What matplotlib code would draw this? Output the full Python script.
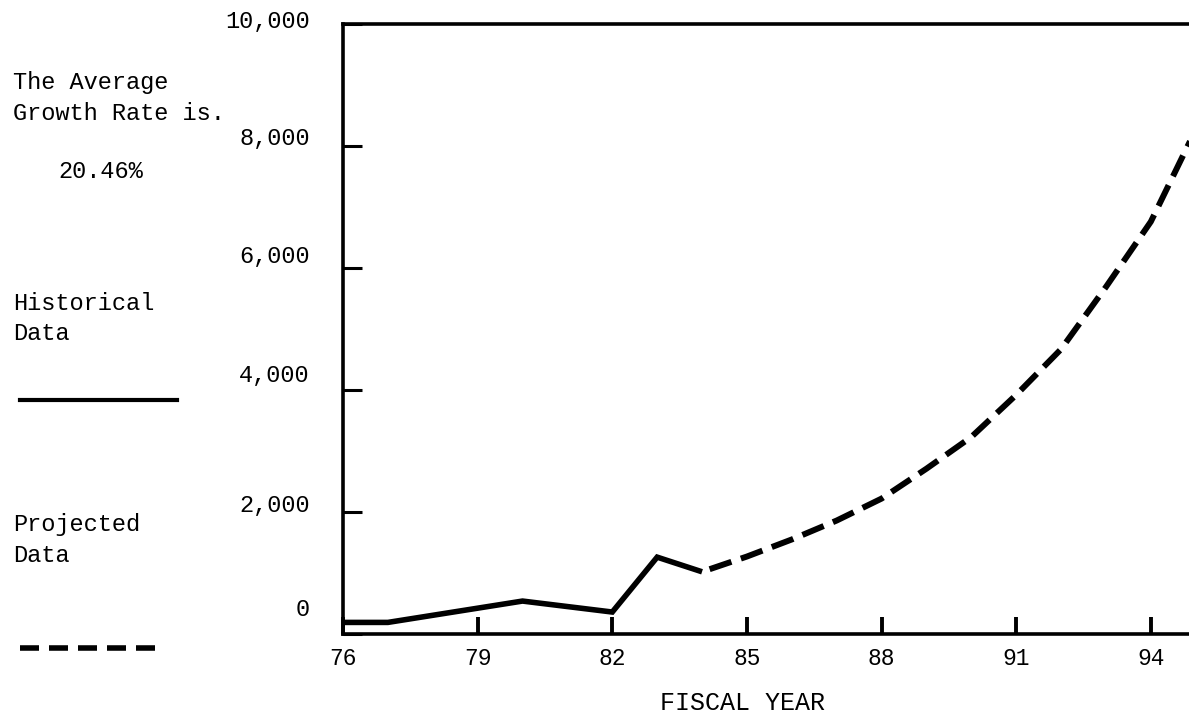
import matplotlib
matplotlib.use("Agg")
import matplotlib.pyplot as plt
from matplotlib.lines import Line2D

# Fiscal-year series
hist_years = [76, 77, 80, 82, 83, 84]
hist_values = [190, 190, 540, 360, 1260, 1020]
proj_years = [84, 85, 86, 87, 88, 89, 90, 91, 92, 93, 94, 95]
proj_values = [1020, 1270, 1550, 1860, 2220, 2710, 3230, 3920, 4670, 5690, 6760, 8270]

x_ticks = [76, 79, 82, 85, 88, 91, 94]
x_labels = ["76", "79", "82", "85", "88", "91", "94"]
y_ticks = [0, 2000, 4000, 6000, 8000, 10000]
y_labels = ["0", "2,000", "4,000", "6,000", "8,000", "10,000"]
growth_rate = "20.46%"

plt.rcParams["font.family"] = ["Liberation Mono", "DejaVu Sans Mono"]
plt.rcParams["lines.scale_dashes"] = False

W, H = 1189, 716
fig = plt.figure(figsize=(W / 100, H / 100), dpi=100)


def fx(px):
    return px / W


def fy(py):
    return 1 - py / H


PT = 0.72  # points per pixel at 100 dpi

ax = fig.add_axes([fx(343), fy(634), fx(W) - fx(343), fy(24) - fy(634)])
ax.set_xlim(76, 94.85)
ax.set_ylim(30, 10000)

for side in ("left", "top", "bottom"):
    ax.spines[side].set_linewidth(2.6)
ax.spines["right"].set_visible(False)

ax.set_xticks(x_ticks, x_labels)
ax.tick_params(axis="x", direction="in", length=17 * PT, width=2.8,
               pad=13 * PT, labelsize=16.5)
ax.set_yticks(y_ticks, [""] * len(y_ticks))
ax.tick_params(axis="y", direction="in", length=19 * PT, width=2.2)

# value labels sit somewhat above their tick marks (typed by hand)
label_lift = {0: 24, 2000: 7, 4000: 14, 6000: 11, 8000: 7, 10000: 2}
for v, lab in zip(y_ticks, y_labels):
    ax.annotate(lab, xy=(0, v), xycoords=("axes fraction", "data"),
                xytext=(-33 * PT, label_lift[v] * PT), textcoords="offset points",
                ha="right", va="center", fontsize=17, annotation_clip=False)

ax.plot(hist_years, hist_values, color="black", lw=4.0,
        solid_joinstyle="miter", solid_capstyle="butt")
ax.plot(proj_years, proj_values, color="black", lw=4.3,
        linestyle=(-8 * PT, (23 * PT, 10 * PT)), dash_capstyle="butt")

# side notes and line key
txt = dict(ha="left", va="center", fontsize=17)
fig.text(fx(13), fy(83), "The Average", **txt)
fig.text(fx(13), fy(113), "Growth Rate is.", **txt)
fig.text(fx(58), fy(172), growth_rate, **txt)
fig.text(fx(13), fy(303), "Historical", **txt)
fig.text(fx(13), fy(333), "Data", **txt)
fig.text(fx(13), fy(525), "Projected", **txt)
fig.text(fx(13), fy(555), "Data", **txt)

fig.add_artist(Line2D([fx(20), fx(177)], [fy(400), fy(400)], lw=3.0,
                      color="black", transform=fig.transFigure))
fig.add_artist(Line2D([fx(20), fx(155)], [fy(648), fy(648)], lw=4.0,
                      color="black", linestyle=(0, (19 * PT, 10 * PT)),
                      transform=fig.transFigure))

fig.text(fx(742), fy(703), "FISCAL YEAR", ha="center", va="center",
         fontsize=18)

fig.savefig("out.png", dpi=100)
